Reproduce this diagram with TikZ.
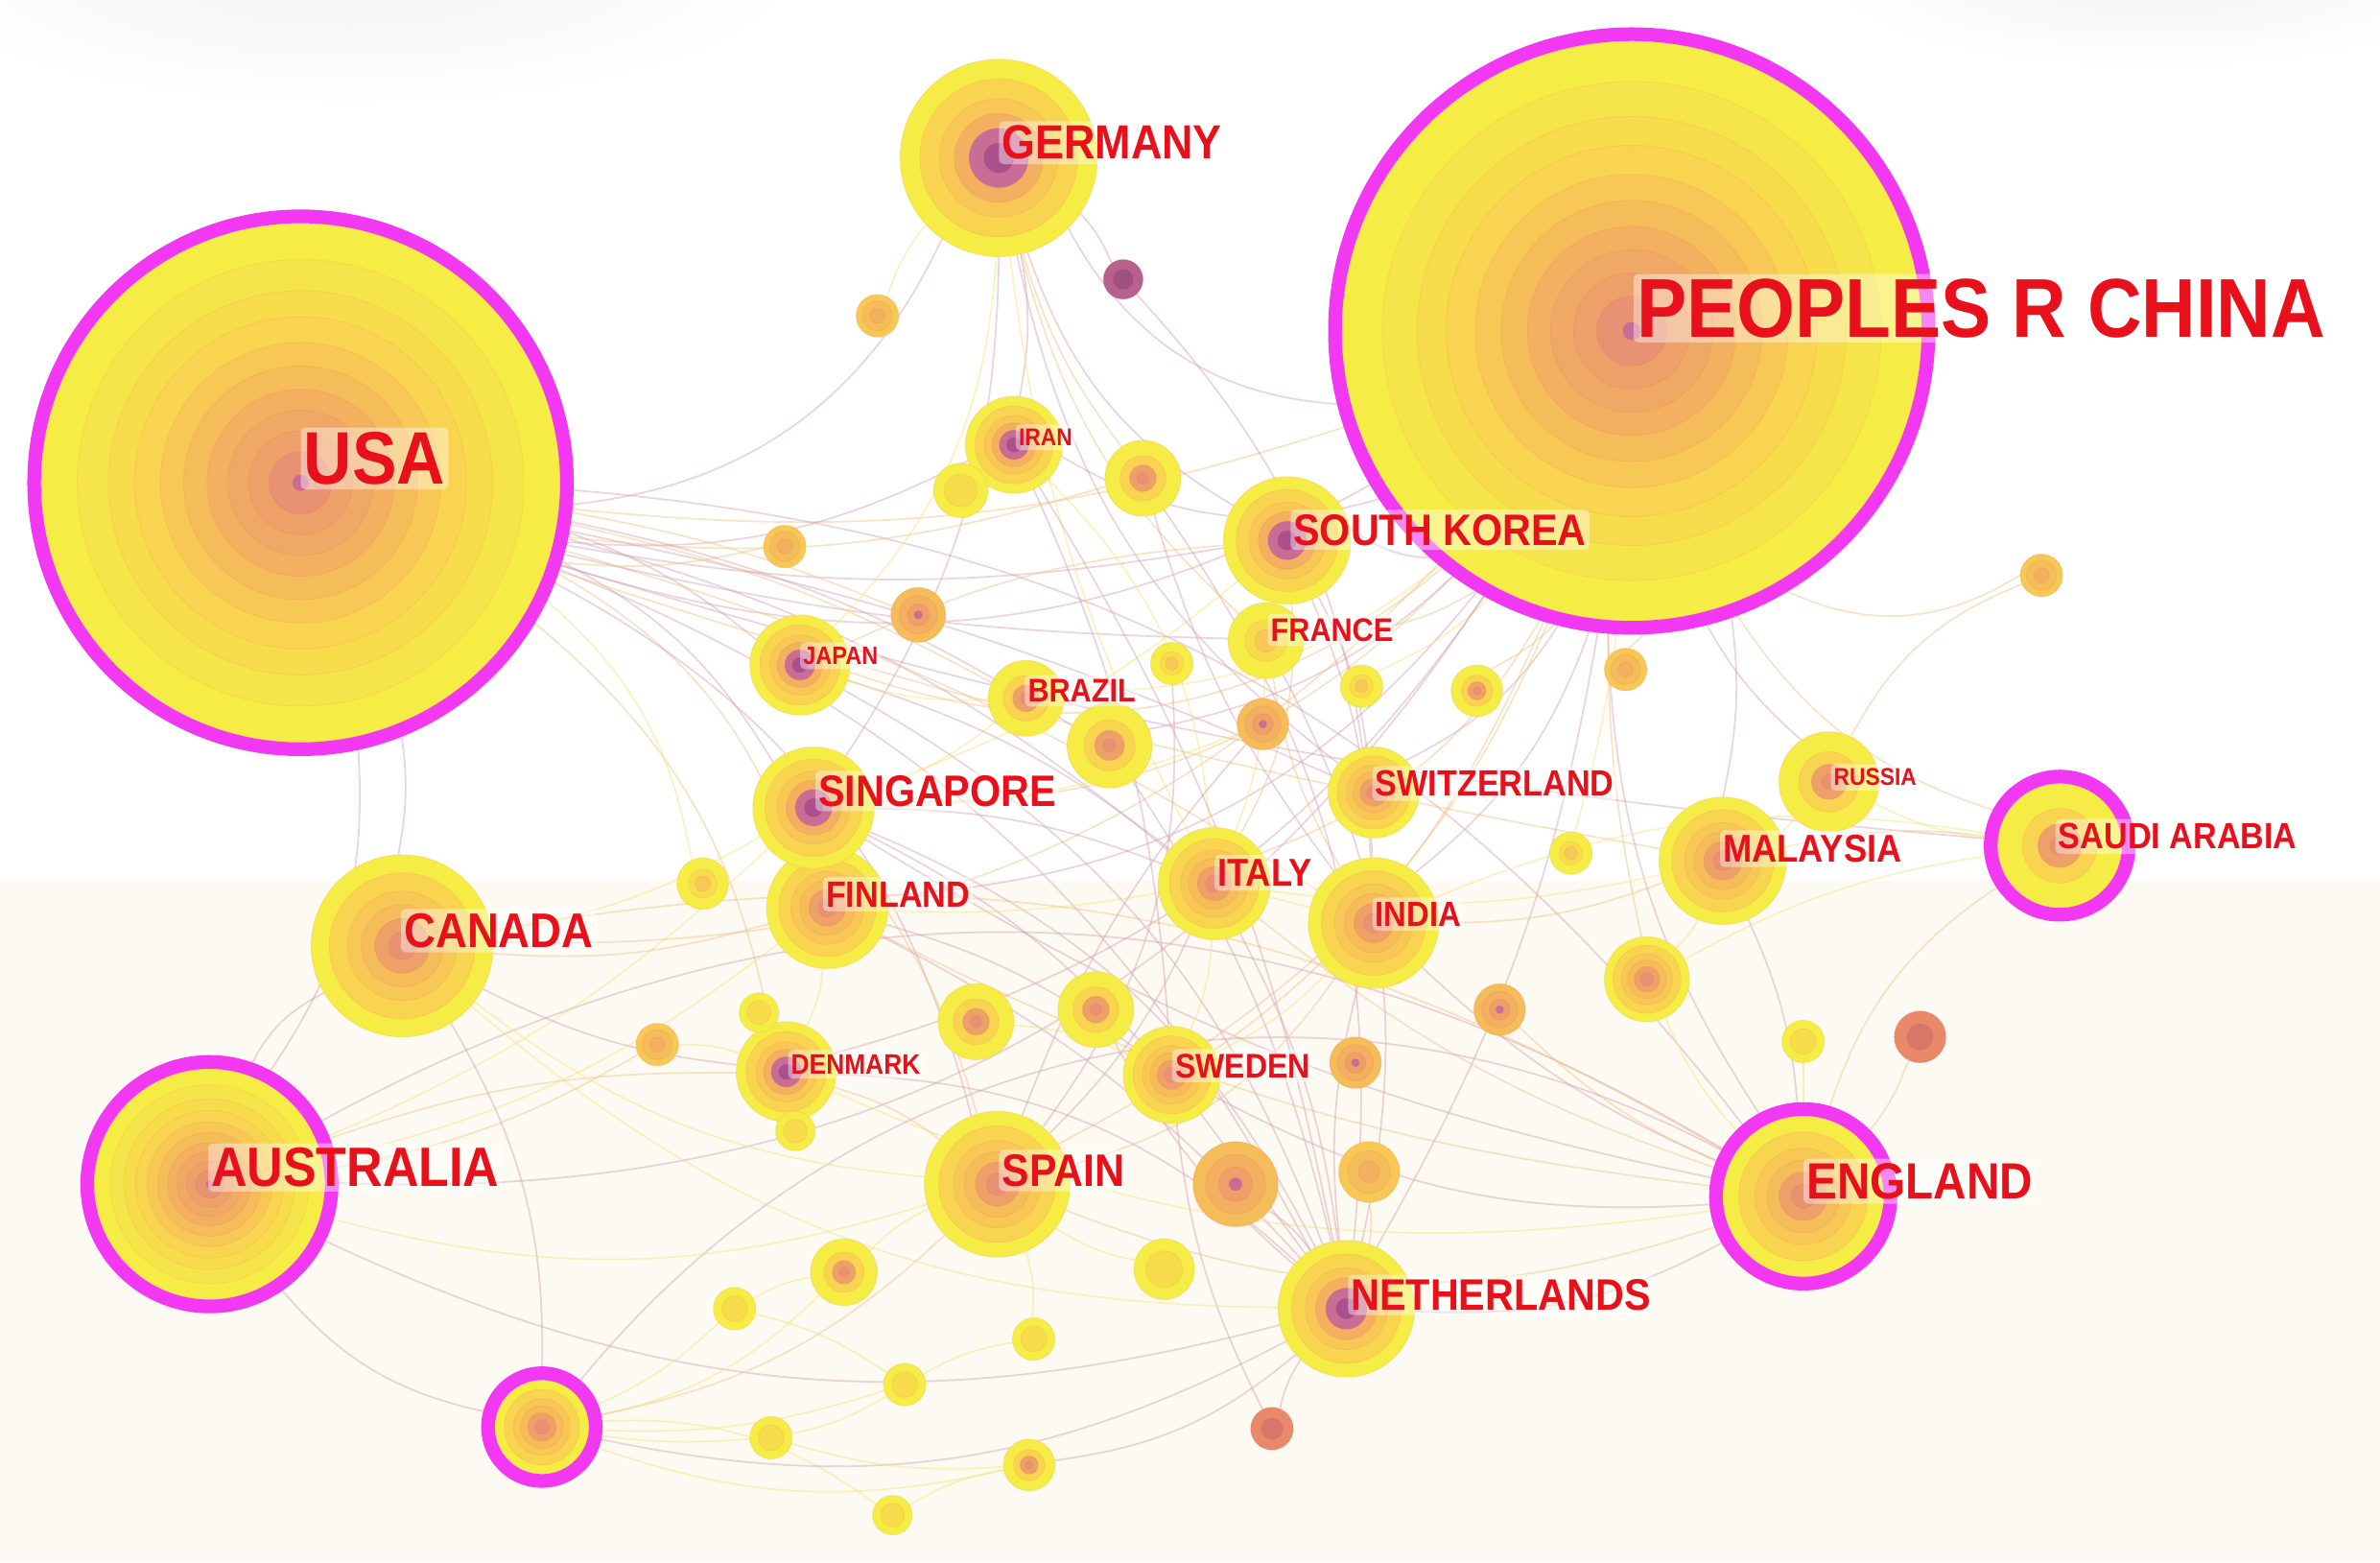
\documentclass[tikz,border=0pt]{standalone}
\usepackage{fontspec}
\newfontfamily\labfont[FakeStretch=0.9]{Liberation Sans}
\pgfdeclarelayer{back}
\pgfdeclarelayer{edges}
\pgfsetlayers{back,edges,main}
\definecolor{cA}{HTML}{F5EC46}
\definecolor{cA2}{HTML}{F6E54A}
\definecolor{cB}{HTML}{F7DC4C}
\definecolor{cC}{HTML}{F8D450}
\definecolor{cD}{HTML}{F7C855}
\definecolor{cE}{HTML}{F5BC5A}
\definecolor{cF}{HTML}{F2B060}
\definecolor{cF2}{HTML}{F0A866}
\definecolor{cG}{HTML}{EEA069}
\definecolor{cH}{HTML}{E89173}
\definecolor{cP}{HTML}{C86E96}
\definecolor{cQ}{HTML}{AA508C}
\definecolor{cR}{HTML}{E88A6A}
\definecolor{cR2}{HTML}{D8766A}
\definecolor{cM}{HTML}{B8608E}
\definecolor{cM2}{HTML}{A05080}
\definecolor{magring}{HTML}{F338F3}
\definecolor{labred}{HTML}{E8101A}
\definecolor{cream}{HTML}{FDFAF3}
\definecolor{ep}{HTML}{D7A0B4}
\definecolor{eo}{HTML}{F0C382}
\definecolor{ey}{HTML}{F4E478}
\def\LstBig{1/cA,0.86/cA2,0.74/cB,0.64/cC,0.54/cD,0.45/cE,0.36/cF,0.28/cF2,0.2/cG,0.12/cH,0.03/cP}
\def\LstStd{1/cA,0.8/cC,0.6/cD,0.45/cE,0.3/cG,0.15/cH}
\def\LstPur{1/cA,0.8/cC,0.6/cD,0.45/cF,0.3/cP,0.15/cQ}
\def\LstYel{1/cA,0.55/cB,0.3/cD}
\def\LstYelC{1/cA,0.6/cC,0.35/cG,0.15/cH}
\def\LstOrg{1/cD,0.7/cE,0.35/cF}
\def\LstOrgC{1/cE,0.7/cF,0.4/cG,0.15/cP}
\def\LstFlat{1/cA,0.6/cB}
\def\LstRed{1/cR,0.5/cR2}
\def\LstMau{1/cM,0.5/cM2}
\newcommand\cn[5]{%
  \node[circle,inner sep=0pt,minimum size={2*#4 pt}] (#1) at (#2,#3) {};
  \foreach \ff/\cl in #5 {\fill[\cl,draw=\cl!80!red,draw opacity=.3,line width=.6pt] (#2,#3) circle ({\ff*#4 pt});}%
}
\newcommand\ring[2]{\draw[magring,line width=9pt] (#1.center) circle ({#2+4.5 pt});}
\newcommand\lbl[5]{\node[lab,font=\labfont\bfseries\fontsize{#5}{#5}\selectfont] (#1) at (#2,#3) {#4};}
\tikzset{
  lab/.style={anchor=west,text=labred,fill=white,fill opacity=.4,text opacity=1,rounded corners=3pt,inner xsep=2pt,inner ysep=3pt},
  edge/.style={line width=1.1pt,opacity=.45}
}
\begin{document}
\begin{tikzpicture}[x=1pt,y=-1pt]
\useasboundingbox (0,0) rectangle (1568,1029);
\begin{pgfonlayer}{back}
\fill[white] (0,0) rectangle (1568,1029);
\fill[cream] (0,580) rectangle (1568,1029);
\shade[inner color=black!5,outer color=white] (230,-20) ellipse (300 and 90);
\shade[inner color=black!5,outer color=white] (1420,-15) ellipse (220 and 60);
\end{pgfonlayer}
% big nodes
\cn{china}{1075}{218}{191}{\LstBig}\ring{china}{191}
\cn{usa}{198}{318}{171}{\LstBig}\ring{usa}{171}
\cn{ger}{658}{104}{65}{\LstPur}
\cn{aus}{138}{780}{76}{\LstBig}\ring{aus}{76}
\cn{eng}{1188}{788}{53}{\LstStd}\ring{eng}{53}
\cn{sau}{1357}{557}{41}{\LstYelC}\ring{sau}{41}
\cn{smag}{357}{940}{31}{\LstStd}\ring{smag}{31}
\cn{can}{265}{623}{60}{\LstStd}
\cn{kor}{848}{356}{42}{\LstPur}
\cn{fin}{545}{598}{40}{\LstStd}
\cn{sgp}{536}{532}{40}{\LstPur}
\cn{ita}{800}{582}{37}{\LstStd}
\cn{ind}{905}{608}{43}{\LstStd}
\cn{swi}{905}{522}{30}{\LstStd}
\cn{mal}{1135}{567}{42}{\LstStd}
\cn{rus}{1205}{515}{33}{\LstYelC}
\cn{ned}{887}{862}{45}{\LstPur}
\cn{spa}{657}{780}{48}{\LstStd}
\cn{swe}{772}{708}{32}{\LstStd}
\cn{den}{518}{706}{33}{\LstPur}
\cn{jpn}{527}{438}{33}{\LstPur}
\cn{bra}{676}{460}{25}{\LstYelC}
\cn{fra}{834}{422}{25}{\LstYel}
\cn{iran}{668}{293}{32}{\LstPur}
% unlabeled nodes
\cn{u1}{740}{184}{13}{\LstMau}
\cn{u2}{578}{208}{14}{\LstOrg}
\cn{u3}{753}{315}{25}{\LstYelC}
\cn{u4}{633}{323}{18}{\LstFlat}
\cn{u5}{517}{360}{14}{\LstOrg}
\cn{u6}{605}{405}{18}{\LstOrgC}
\cn{u7}{772}{437}{14}{\LstYel}
\cn{u8}{731}{491}{28}{\LstYelC}
\cn{u9}{832}{477}{17}{\LstOrgC}
\cn{u10}{897}{452}{14}{\LstYel}
\cn{u11}{973}{455}{17}{\LstYelC}
\cn{u12}{1071}{441}{14}{\LstOrg}
\cn{u13}{1345}{379}{14}{\LstOrg}
\cn{u14}{463}{582}{17}{\LstYel}
\cn{u15}{1035}{562}{14}{\LstYel}
\cn{u16}{1085}{645}{28}{\LstStd}
\cn{u17}{988}{665}{17}{\LstOrgC}
\cn{u18}{1188}{686}{14}{\LstFlat}
\cn{u19}{1265}{683}{17}{\LstRed}
\cn{u20}{433}{688}{14}{\LstOrg}
\cn{u21}{500}{667}{13}{\LstFlat}
\cn{u22}{524}{745}{13}{\LstFlat}
\cn{u23}{643}{673}{25}{\LstYelC}
\cn{u24}{722}{665}{25}{\LstYelC}
\cn{u25}{893}{700}{17}{\LstOrgC}
\cn{u26}{814}{780}{28}{\LstOrgC}
\cn{u27}{902}{772}{20}{\LstOrg}
\cn{u28}{767}{836}{20}{\LstFlat}
\cn{u29}{556}{838}{22}{\LstYelC}
\cn{u30}{484}{862}{14}{\LstFlat}
\cn{u31}{681}{882}{14}{\LstFlat}
\cn{u32}{596}{912}{14}{\LstFlat}
\cn{u33}{508}{947}{14}{\LstFlat}
\cn{u34}{678}{965}{17}{\LstYelC}
\cn{u35}{588}{998}{13}{\LstFlat}
\cn{u36}{838}{941}{14}{\LstRed}
% edges
\begin{pgfonlayer}{edges}
\foreach \a/\b/\bd/\st in {
usa/ger/-15/ep, usa/china/-12/ep, usa/china/-6/eo, usa/kor/-5/ep, usa/iran/-8/ep, usa/u3/-6/eo,
usa/jpn/5/ep, usa/sgp/8/ep, usa/fin/10/eo, usa/can/5/ep, usa/aus/10/ep, usa/den/10/eo,
usa/spa/12/ep, usa/ned/10/ep, usa/eng/12/ep, usa/ita/6/ep, usa/ind/4/eo, usa/swi/3/ep,
usa/mal/-2/eo, usa/fra/-3/ep, usa/u5/-5/eo, usa/u6/3/eo, usa/u8/5/ep, usa/bra/4/eo,
usa/sau/-3/ep, usa/u14/10/ey,
china/kor/10/ep, china/fra/10/eo, china/swi/8/ep, china/ind/8/ep, china/ita/10/eo, china/mal/5/ep,
china/rus/-5/ep, china/sau/-10/eo, china/eng/-8/ep, china/ned/5/ep, china/spa/10/eo, china/sgp/12/eo,
china/fin/12/ep, china/jpn/15/eo, china/ger/15/ep, china/iran/12/ep, china/u11/5/eo, china/u10/5/ey,
china/u12/3/eo, china/u15/2/ey, china/u16/-3/eo, china/u13/-15/eo, china/bra/10/ey, china/u8/8/ep,
china/swe/8/eo, china/den/10/ep, china/aus/15/ep, china/can/12/eo,
ger/iran/5/ep, ger/u1/5/ep, ger/kor/-10/ep, ger/fra/-8/eo, ger/ita/-5/ey, ger/sgp/8/ep,
ger/u3/-5/eo, ger/jpn/10/ey, ger/swi/-10/ep,
eng/ned/8/ep, eng/spa/10/eo, eng/ind/5/ep, eng/ita/5/eo, eng/mal/-5/ep, eng/sau/10/eo,
eng/aus/-15/ep, eng/can/-10/eo, eng/u16/5/ey, eng/u17/5/eo, eng/swe/8/ep, eng/fin/5/eo,
eng/den/8/ey, eng/smag/-20/ep, eng/sgp/5/ep, eng/u18/0/ey,
aus/can/10/ep, aus/den/5/eo, aus/spa/-8/ey, aus/ned/-10/ep, aus/u20/-5/eo, aus/smag/-10/ep,
aus/sgp/-5/ey, aus/fin/-6/ey,
smag/u30/-5/ey, smag/u33/-3/ey, smag/u32/-5/ey, smag/u35/10/ey, smag/u29/-8/ey, smag/spa/-8/eo,
smag/ned/-10/ep, smag/u34/-8/ey, smag/can/-8/ep,
u30/u29/5/ey, u30/u32/5/ey, u32/u31/5/ey, u33/u32/-5/ey, u33/u34/-5/ey, u35/u34/5/ey,
u29/spa/5/ey, u31/spa/-5/ey, u34/ned/-8/ep, u36/ned/5/ep, u36/swe/5/ep, u28/spa/5/ey,
sau/mal/-5/eo, sau/rus/5/ey, sau/ind/-8/ey, sau/u16/-5/ey, rus/u13/10/eo, rus/mal/5/ey,
mal/ind/5/eo, mal/ita/5/ey, mal/u16/5/ey,
kor/ind/5/ep, kor/ita/8/eo, kor/sgp/5/ey, kor/swi/5/ep, kor/jpn/-5/eo,
sgp/fin/0/ep, sgp/ita/5/ep, sgp/ned/10/ep, sgp/swe/5/ep, sgp/spa/5/eo, sgp/bra/-5/ey,
fin/ita/-3/ey, fin/swe/5/ep, fin/den/5/ey, fin/ned/5/ep,
jpn/ita/5/ep, jpn/ned/10/ep, jpn/bra/-5/ey,
iran/ita/10/ey, iran/swe/5/ep, iran/ned/5/ep, iran/u4/0/ey,
fra/ita/5/ey, fra/ind/-5/eo, fra/ned/10/ep,
ita/ind/0/ey, ita/spa/5/ep, ita/ned/5/ep, ita/swe/5/ey,
ind/ned/-5/ep, ind/swe/5/ey, ind/spa/10/eo, swe/ned/0/ep, den/spa/5/eo, den/ned/10/ep,
can/den/-5/ep, can/fin/-5/eo, can/sgp/-5/ey, can/ned/-10/ey, can/spa/-8/ey,
u24/ned/-5/ep, u23/swe/5/ey, u26/ned/5/ep, u27/ned/5/eo, u8/ned/5/ep,
u1/ind/10/ep, u3/ind/-5/ep, u3/ned/10/ep, u7/spa/10/ep, u9/spa/-5/ep, u9/sgp/5/ey,
u2/ger/5/ey, u21/den/5/ey, u22/den/5/ey, u19/eng/5/eo, u20/den/5/ey}
  {\pgfmathsetmacro\bdd{2*\bd}\draw[edge,\st] (\a) to[bend left=\bdd] (\b);}
\end{pgfonlayer}
% labels
\lbl{lusa}{198}{302}{USA}{49}
\lbl{lchina}{1076}{203}{PEOPLES R CHINA}{55}
\lbl{lger}{658}{94}{GERMANY}{31.5}
\lbl{lkor}{850}{349}{SOUTH KOREA}{29}
\lbl{ljpn}{527}{432}{JAPAN}{16.5}
\lbl{liran}{669}{288}{IRAN}{16}
\lbl{lfra}{835}{415}{FRANCE}{21.5}
\lbl{lbra}{675}{455}{BRAZIL}{21.5}
\lbl{lsgp}{537}{521}{SINGAPORE}{29}
\lbl{lswi}{904}{516}{SWITZERLAND}{24}
\lbl{lrus}{1206}{512}{RUSSIA}{16}
\lbl{lsau}{1354}{551}{SAUDI ARABIA}{24}
\lbl{lmal}{1133}{559}{MALAYSIA}{25.5}
\lbl{lcan}{264}{613}{CANADA}{32}
\lbl{lfin}{542}{589}{FINLAND}{24}
\lbl{lita}{800}{575}{ITALY}{25.5}
\lbl{lind}{904}{602}{INDIA}{23}
\lbl{lden}{519}{701}{DENMARK}{18.5}
\lbl{lswe}{772}{702}{SWEDEN}{22.5}
\lbl{laus}{137}{769}{AUSTRALIA}{36.5}
\lbl{lspa}{658}{771}{SPAIN}{30}
\lbl{leng}{1188}{778}{ENGLAND}{33.5}
\lbl{lned}{888}{853}{NETHERLANDS}{29}
\end{tikzpicture}
\end{document}
